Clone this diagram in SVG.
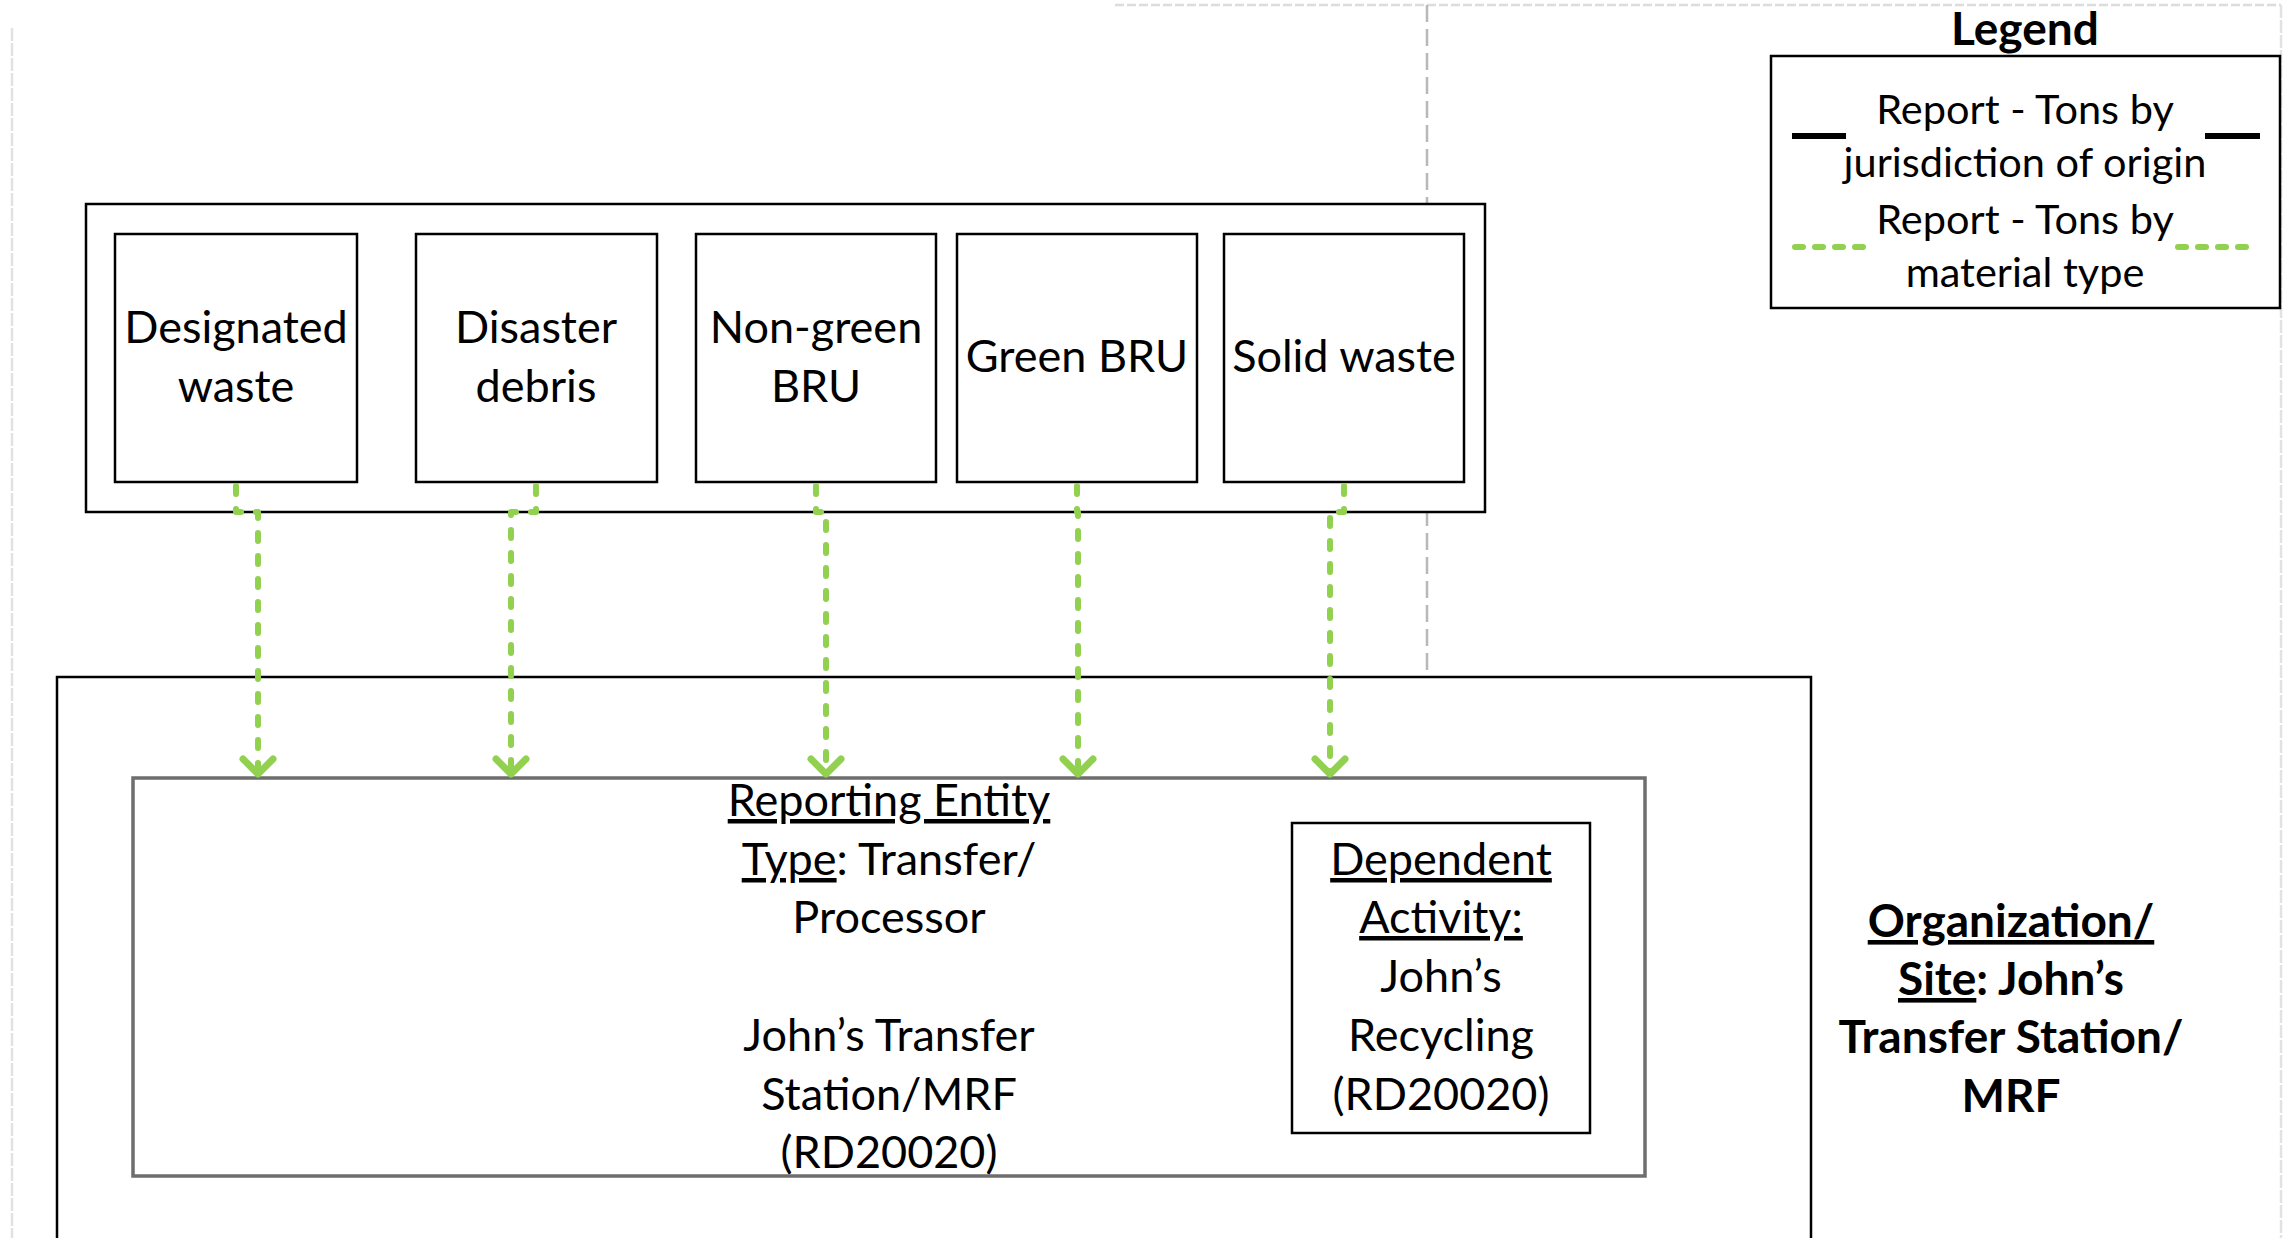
<svg xmlns="http://www.w3.org/2000/svg" width="2288" height="1238" viewBox="0 0 2288 1238">
<style>
.box{fill:#fff;stroke:#000;stroke-width:2.5}
.rep{fill:#fff;stroke:#6e6e6e;stroke-width:3.5}
.t{font-family:Lato,"Liberation Sans",sans-serif;font-size:45px;fill:#000;text-anchor:middle}
.lg{font-family:Lato,"Liberation Sans",sans-serif;font-size:41.5px;fill:#000;text-anchor:middle}
.b{font-weight:bold;font-size:46px}
.u{text-decoration:underline}
.con{fill:none;stroke:#92D050;stroke-width:6;stroke-dasharray:8 15;stroke-linecap:round;stroke-linejoin:round}
.guide{fill:none;stroke-width:2.5}
</style>
<defs>
<marker id="arr" markerUnits="userSpaceOnUse" viewBox="-20 -20 30 40" markerWidth="30" markerHeight="40" refX="0" refY="0" orient="auto">
<path d="M-15,-15 L0,0 L-15,15" fill="none" stroke="#92D050" stroke-width="7" stroke-linecap="round" stroke-linejoin="round"/>
</marker>
</defs>
<g id="guides">
<line class="guide" x1="12" y1="28" x2="12" y2="1238" stroke="#e2e2e2" stroke-dasharray="13 2"/>
<line class="guide" x1="1115" y1="5" x2="2281" y2="5" stroke="#dcdcdc" stroke-dasharray="9 3"/>
<line class="guide" x1="2281" y1="5" x2="2281" y2="1238" stroke="#e2e2e2" stroke-dasharray="13 2"/>
<line class="guide" x1="1427" y1="5" x2="1427" y2="671" stroke="#b8b8b8" stroke-dasharray="17 7"/>
</g>
<g id="sources">
<rect class="box" x="86" y="204" width="1399" height="308"/>
</g>
<g id="designated-waste">
<rect class="box" x="115" y="234" width="242" height="248"/>
<text class="t" x="236" y="343">Designated</text>
<text class="t" x="236" y="402">waste</text>
</g>
<g id="disaster-debris">
<rect class="box" x="416" y="234" width="241" height="248"/>
<text class="t" x="536" y="343">Disaster</text>
<text class="t" x="536" y="402">debris</text>
</g>
<g id="non-green-bru">
<rect class="box" x="696" y="234" width="240" height="248"/>
<text class="t" x="816" y="343">Non-green</text>
<text class="t" x="816" y="402">BRU</text>
</g>
<g id="green-bru">
<rect class="box" x="957" y="234" width="240" height="248"/>
<text class="t" x="1077" y="372">Green BRU</text>
</g>
<g id="solid-waste">
<rect class="box" x="1224" y="234" width="240" height="248"/>
<text class="t" x="1344" y="372">Solid waste</text>
</g>
<g id="organization-site">
<rect class="box" x="57" y="677" width="1754" height="620"/>
<text class="t b" x="2011" y="937"><tspan class="u">Organization/</tspan></text>
<text class="t b" x="2011" y="995"><tspan class="u">Site</tspan>: John’s</text>
<text class="t b" x="2011" y="1053">Transfer Station/</text>
<text class="t b" x="2011" y="1112">MRF</text>
</g>
<g id="reporting-entity">
<rect class="rep" x="133" y="778" width="1512" height="398"/>
<text class="t" x="889" y="816"><tspan class="u">Reporting Entity</tspan></text>
<text class="t" x="889" y="875"><tspan class="u">Type</tspan>: Transfer/</text>
<text class="t" x="889" y="933">Processor</text>
<text class="t" x="889" y="1051">John’s Transfer</text>
<text class="t" x="889" y="1110">Station/MRF</text>
<text class="t" x="889" y="1168">(RD20020)</text>
</g>
<g id="dependent-activity">
<rect class="box" x="1292" y="823" width="298" height="310"/>
<text class="t" x="1441" y="875"><tspan class="u">Dependent</tspan></text>
<text class="t" x="1441" y="933"><tspan class="u">Activity:</tspan></text>
<text class="t" x="1441" y="992">John’s</text>
<text class="t" x="1441" y="1051">Recycling</text>
<text class="t" x="1441" y="1110">(RD20020)</text>
</g>
<g id="connectors">
<path class="con" d="M236 486 V512 H258 V774" marker-end="url(#arr)"/>
<path class="con" d="M536 486 V512 H511 V774" marker-end="url(#arr)"/>
<path class="con" d="M816 486 V512 H826 V774" marker-end="url(#arr)"/>
<path class="con" d="M1077 486 V512 H1078 V774" marker-end="url(#arr)"/>
<path class="con" d="M1344 486 V512 H1330 V774" marker-end="url(#arr)"/>
</g>
<g id="legend">
<text class="t b" x="2025" y="45">Legend</text>
<rect class="box" x="1771" y="56" width="509" height="252"/>
<line x1="1792" y1="136" x2="1846" y2="136" stroke="#000" stroke-width="6"/>
<line x1="2205" y1="136" x2="2260" y2="136" stroke="#000" stroke-width="6"/>
<line x1="1795" y1="247" x2="1868" y2="247" stroke="#92D050" stroke-width="6" stroke-dasharray="8 12" stroke-linecap="round"/>
<line x1="2178" y1="247" x2="2258" y2="247" stroke="#92D050" stroke-width="6" stroke-dasharray="8 12" stroke-linecap="round"/>
<text class="lg" x="2025" y="124">Report - Tons by</text>
<text class="lg" x="2025" y="177">jurisdiction of origin</text>
<text class="lg" x="2025" y="234">Report - Tons by</text>
<text class="lg" x="2025" y="287">material type</text>
</g>
</svg>
